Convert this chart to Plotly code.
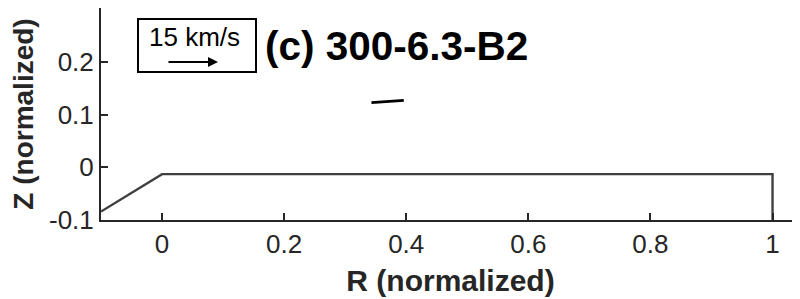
import plotly.graph_objects as go

# Data
boundary_r = [-0.1, 0.0, 1.0, 1.0]
boundary_z = [-0.084, -0.013, -0.013, -0.1]
vector_r = [0.343, 0.396]
vector_z = [0.1225, 0.127]
x_ticks = [0, 0.2, 0.4, 0.6, 0.8, 1]
y_ticks = [-0.1, 0, 0.1, 0.2]
title_text = "(c) 300-6.3-B2"
scale_label = "15 km/s"

# page has an 8px body margin; compensate
OFF = 8
W, H = 800 - OFF, 299 - OFF
PL, PR, PT, PB = 101, 800, 8, 220   # plot area in page pixels
L, T = PL - OFF, PT - OFF
R = (W + OFF) - PR
B = (H + OFF) - PB

def px(x):
    return (x - PL) / (PR - PL)

def py(y):
    return (PB - y) / (PB - PT)

fig = go.Figure()
fig.add_trace(go.Scatter(x=boundary_r, y=boundary_z, mode="lines",
                         line=dict(color="#404040", width=2.4), showlegend=False))
fig.add_trace(go.Scatter(x=vector_r, y=vector_z, mode="lines",
                         line=dict(color="black", width=2.8), showlegend=False))

font = "Arial, Liberation Sans, sans-serif"
axcol = "#262626"
fig.update_layout(
    width=W, height=H,
    margin=dict(l=L, r=R, t=T, b=B, autoexpand=False),
    plot_bgcolor="white", paper_bgcolor="white",
    font=dict(family=font, color=axcol, size=26),
    xaxis=dict(range=[-0.1, 1.045], tickvals=x_ticks, ticktext=[f"{v:g}" for v in x_ticks],
               ticks="inside", ticklen=7, tickwidth=2, tickcolor=axcol,
               showline=True, linecolor=axcol, linewidth=2, showgrid=False, zeroline=False,
               tickfont=dict(size=26),
               title=dict(text="<b>R (normalized)</b>", font=dict(size=30), standoff=12)),
    yaxis=dict(range=[-0.1, 0.302], tickvals=y_ticks, ticktext=[f"{v:g}" for v in y_ticks],
               ticks="inside", ticklen=7, tickwidth=2, tickcolor=axcol,
               showline=True, linecolor=axcol, linewidth=2, showgrid=False, zeroline=False,
               tickfont=dict(size=26),
               title=dict(text="<b>Z (normalized)</b>", font=dict(size=28), standoff=8)),
)

# scale legend box
fig.add_shape(type="rect", xref="paper", yref="paper",
              x0=px(138), x1=px(256), y0=py(72), y1=py(19),
              line=dict(color="black", width=2), fillcolor="white")
fig.add_annotation(xref="paper", yref="paper", x=px(194), y=py(37), text=scale_label,
                   xanchor="center", yanchor="middle",
                   showarrow=False, font=dict(size=26, color="black"))
fig.add_annotation(xref="paper", yref="paper", x=px(218), y=py(62), ax=-51, ay=0,
                   axref="pixel", ayref="pixel", text="", showarrow=True,
                   arrowhead=2, arrowsize=1, arrowwidth=2, arrowcolor="black")
fig.add_annotation(xref="paper", yref="paper", x=px(263), y=py(46),
                   xanchor="left", yanchor="middle",
                   text=f"<b>{title_text}</b>", showarrow=False,
                   font=dict(size=40.5, color="black"))

fig.write_html("out.html")
